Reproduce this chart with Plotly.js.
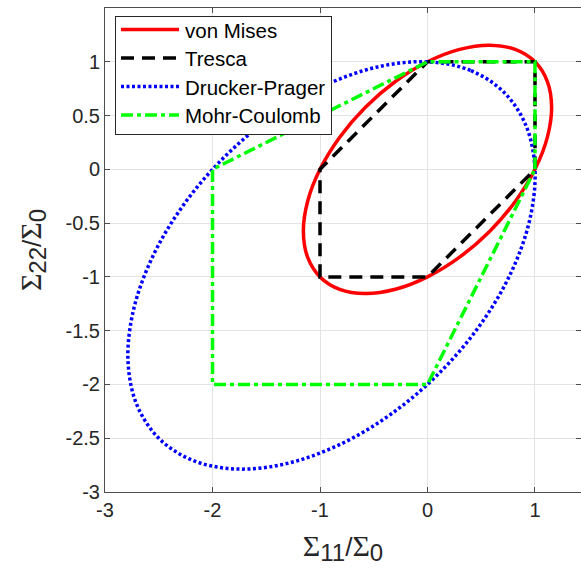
<!DOCTYPE html>
<html>
<head>
<meta charset="utf-8">
<script src="https://cdn.plot.ly/plotly-3.0.1.min.js"></script>
<style>html,body{margin:0;padding:0;background:#fff;}#chart{width:581px;height:575px;}</style>
</head>
<body>
<div id="chart"></div>
<script>
// von Mises ellipse
const vmX = [1, 0.8165, 0.5774, 0.2989, 0, -0.2989, -0.5774, -0.8165, -1, -1.1153, -1.1547, -1.1153, -1, -0.8165, -0.5774, -0.2989, 0, 0.2989, 0.5774, 0.8165, 1, 1.1153, 1.1547, 1.1153, 1];
const vmY = [1, 1.1153, 1.1547, 1.1153, 1, 0.8165, 0.5774, 0.2989, 0, -0.2989, -0.5774, -0.8165, -1, -1.1153, -1.1547, -1.1153, -1, -0.8165, -0.5774, -0.2989, 0, 0.2989, 0.5774, 0.8165, 1];
// Tresca hexagon
const trX = [1, 1, 0, -1, -1, 0, 1];
const trY = [0, 1, 1, 0, -1, -1, 0];
// Drucker-Prager ellipse
const dpX = [0.714, 0.400, -0.002, -0.465, -0.957, -1.445, -1.895, -2.277, -2.565, -2.738, -2.786, -2.705, -2.500, -2.186, -1.784, -1.321, -0.829, -0.341, 0.109, 0.491, 0.779, 0.952, 1.000, 0.919, 0.714];
const dpY = [0.714, 0.919, 1.000, 0.952, 0.779, 0.491, 0.109, -0.341, -0.829, -1.321, -1.784, -2.186, -2.500, -2.705, -2.786, -2.738, -2.565, -2.277, -1.895, -1.445, -0.957, -0.465, -0.002, 0.400, 0.714];
// Mohr-Coulomb
const mcX = [1, 1, 0, -2, -2, 0, 1];
const mcY = [0, 1, 1, 0, -2, -2, 0];

const xTicks = [-3, -2, -1, 0, 1];
const xTickText = ['-3', '-2', '-1', '0', '1'];
const yTicks = [-3, -2.5, -2, -1.5, -1, -0.5, 0, 0.5, 1, 1.5];
const yTickText = ['-3', '-2.5', '-2', '-1.5', '-1', '-0.5', '0', '0.5', '1', '1.5'];

const traces = [
  {x: vmX, y: vmY, name: 'von Mises', mode: 'lines', line: {color: '#ff0000', width: 3.5, shape: 'spline', smoothing: 1}},
  {x: trX, y: trY, name: 'Tresca', mode: 'lines', line: {color: '#000000', width: 3.5, dash: '13px,8px'}},
  {x: dpX, y: dpY, name: 'Drucker-Prager', mode: 'lines', line: {color: '#0000ff', width: 3.5, dash: '3px,2.5px', shape: 'spline', smoothing: 1}},
  {x: mcX, y: mcY, name: 'Mohr-Coulomb', mode: 'lines', line: {color: '#00ff00', width: 3.5, dash: '12px,4px,4px,4px'}}
];

const S = '<span style="font-family:\'Liberation Serif\';font-size:30px">Σ</span>';
function axTitle(sub) {
  return S + '<sub><span style="font-size:24px">' + sub + '</span></sub>/' + S + '<sub><span style="font-size:24px">0</span></sub>';
}
const axCommon = {
  showgrid: true, gridcolor: '#e3e3e3', gridwidth: 1,
  zeroline: false, showline: true, linecolor: '#4d4d4d', linewidth: 1,
  ticks: 'inside', ticklen: 5, tickcolor: '#4d4d4d', mirror: 'ticks',
  tickfont: {family: 'Liberation Sans, Arial', size: 20, color: '#262626'},
  tickmode: 'array'
};

const layout = {
  width: 581, height: 575,
  margin: {l: 105, r: 0, t: 8, b: 83},
  paper_bgcolor: '#ffffff', plot_bgcolor: '#ffffff',
  showlegend: true,
  legend: {x: 0.021, y: 0.984, xanchor: 'left', yanchor: 'top', bgcolor: '#ffffff', bordercolor: '#262626', borderwidth: 1,
           itemwidth: 59,
           font: {family: 'Liberation Sans, Arial', size: 20.5, color: '#000000'}},
  xaxis: Object.assign({}, axCommon, {range: [-3, 1.428], tickvals: xTicks, ticktext: xTickText,
    title: {text: axTitle('11'), font: {family: 'Liberation Sans, Arial', size: 26, color: '#262626'}, standoff: 17}}),
  yaxis: Object.assign({}, axCommon, {range: [-3, 1.5], tickvals: yTicks, ticktext: yTickText,
    title: {text: axTitle('22'), font: {family: 'Liberation Sans, Arial', size: 26, color: '#262626'}, standoff: 16}})
};

Plotly.newPlot('chart', traces, layout, {staticPlot: true, displayModeBar: false}).then(function () {
  document.querySelectorAll('.legend .legendlines path').forEach(function (p) {
    p.setAttribute('d', 'M5,0h58');
  });
  const items = document.querySelectorAll('.legend .traces');
  let y0 = null;
  items.forEach(function (g, i) {
    const m = /translate\(\s*([-\d.e]+)[ ,]+([-\d.e]+)\s*\)/.exec(g.getAttribute('transform') || '');
    if (!m) return;
    const a = parseFloat(m[1]), b = parseFloat(m[2]);
    if (y0 === null) y0 = b;
    g.setAttribute('transform', 'translate(' + a + ',' + (y0 - 7 + 28.5 * i) + ')');
  });
  const bg = document.querySelector('.legend rect.bg');
  if (bg) bg.setAttribute('height', 118);
});
</script>
</body>
</html>
